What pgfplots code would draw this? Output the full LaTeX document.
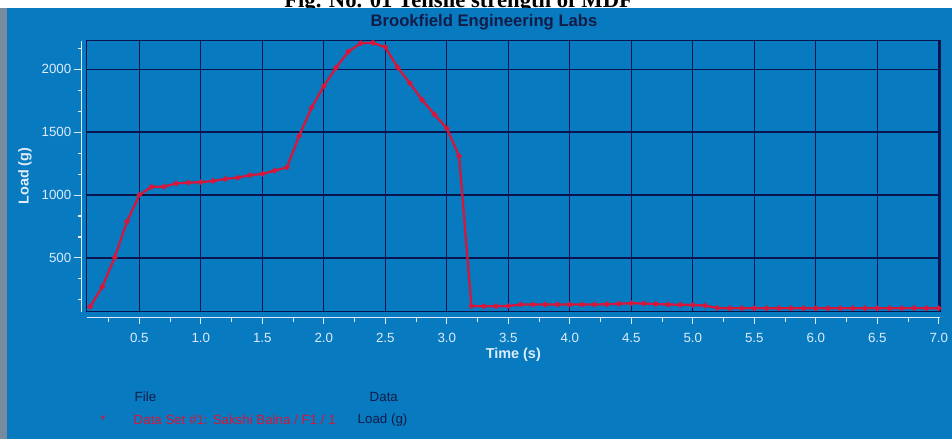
\documentclass[border=0pt]{standalone}
\usepackage{fontspec}
\setmainfont{Liberation Sans}
\newfontfamily\titleserif{Liberation Serif}
\usepackage{pgfplots}
\pgfplotsset{compat=1.18}
\definecolor{bgblue}{RGB}{8,122,192}
\definecolor{gridnavy}{RGB}{12,20,78}
\definecolor{lightc}{RGB}{222,236,250}
\definecolor{curvered}{RGB}{214,22,58}
\definecolor{titlenavy}{RGB}{18,28,72}
\definecolor{edgegray}{RGB}{120,138,158}
\begin{document}
\begin{tikzpicture}
\useasboundingbox (0,0) rectangle (714pt,329.25pt);
\fill[white] (0,0) rectangle (714pt,329.25pt);
\node[anchor=base, font=\titleserif\bfseries\fontsize{17}{20}\selectfont, text=black] at (344pt,323.5pt) {Fig. No. 01 Tensile strength of MDF};
\fill[edgegray] (0,0) rectangle (5.25pt,323.25pt);
\fill[bgblue] (5.25pt,0) rectangle (714pt,323.25pt);
\node[font=\bfseries\fontsize{12.5}{14}\selectfont, text=titlenavy] at (363pt,312.75pt) {Brookfield Engineering Labs};
\begin{axis}[
  at={(65pt,95.5pt)}, anchor=south west,
  width=640pt, height=203.25pt, scale only axis,
  xmin=0.072, xmax=7.01, ymin=73, ymax=2227,
  xtick={0.5,1,...,7}, ytick={500,1000,1500,2000},
  grid=major,
  major grid style={gridnavy, line width=1pt},
  axis line style={gridnavy, line width=1pt},
  major tick length=0pt, minor tick length=0pt,
  /pgf/number format/assume math mode=true,
  ticklabel style={font=\fontsize{10}{12}\selectfont, text=lightc},
  x tick label style={/pgf/number format/.cd, fixed, fixed zerofill, precision=1},
  y tick label style={/pgf/number format/.cd, fixed, 1000 sep={}},
  xticklabel shift=12.5pt,
  yticklabel shift=8pt,
  xlabel={Time (s)}, ylabel={Load (g)},
  label style={font=\bfseries\fontsize{10.8}{12}\selectfont, text=lightc},
  xlabel style={at={(axis description cs:0.5,0)}, anchor=center, yshift=-32.5pt},
  ylabel style={at={(axis description cs:-0.0723,0.5)}, anchor=center},
  clip=false,
]
\draw[lightc, line width=0.9pt] ([yshift=-4.5pt]axis cs:0.072,73) -- ([yshift=-4.5pt]axis cs:7.01,73);
\pgfplotsinvokeforeach{0.25,0.75,1.25,1.75,2.25,2.75,3.25,3.75,4.25,4.75,5.25,5.75,6.25,6.75}{
  \draw[lightc, line width=0.8pt] ([yshift=-4.5pt]axis cs:#1,73) -- ([yshift=-8pt]axis cs:#1,73);
}
\pgfplotsinvokeforeach{0.5,1,1.5,2,2.5,3,3.5,4,4.5,5,5.5,6,6.5,7}{
  \draw[lightc, line width=0.8pt] ([yshift=-4.5pt]axis cs:#1,73) -- ([yshift=-9.5pt]axis cs:#1,73);
}
\draw[lightc, line width=0.9pt] ([xshift=-3.75pt]axis cs:0.072,73) -- ([xshift=-3.75pt]axis cs:0.072,2227);
\pgfplotsinvokeforeach{166.67,333.33,666.67,833.33,1166.67,1333.33,1666.67,1833.33,2166.67}{
  \draw[lightc, line width=0.8pt] ([xshift=-3.75pt]axis cs:0.072,#1) -- ([xshift=-6.75pt]axis cs:0.072,#1);
}
\pgfplotsinvokeforeach{500,1000,1500,2000}{
  \draw[lightc, line width=0.8pt] ([xshift=-3.75pt]axis cs:0.072,#1) -- ([xshift=-9.25pt]axis cs:0.072,#1);
}
\addplot[curvered, line width=1.7pt, mark=*, mark size=1.1pt, mark options={fill=curvered, draw=curvered}] coordinates {
(0.1,113) (0.2,272) (0.3,505) (0.4,790) (0.5,1000) (0.6,1065) (0.7,1067) (0.8,1092) (0.9,1099) (1.0,1102)
(1.1,1112) (1.2,1128) (1.3,1138) (1.4,1158) (1.5,1168) (1.6,1194) (1.7,1220) (1.8,1470) (1.9,1695) (2.0,1865)
(2.1,2013) (2.2,2140) (2.3,2207) (2.4,2210) (2.5,2175) (2.6,2015) (2.7,1889) (2.8,1756) (2.9,1640) (3.0,1530)
(3.1,1310) (3.2,118) (3.3,116) (3.4,116) (3.5,118) (3.6,130) (3.7,130) (3.8,130) (3.9,130) (4.0,130)
(4.1,130) (4.2,130) (4.3,132) (4.4,136) (4.5,140) (4.6,138) (4.7,134) (4.8,130) (4.9,128) (5.0,126)
(5.1,121) (5.2,102) (5.3,100) (5.4,100) (5.5,100) (5.6,100) (5.7,100) (5.8,100) (5.9,100) (6.0,100)
(6.1,100) (6.2,100) (6.3,100) (6.4,100) (6.5,100) (6.6,100) (6.7,100) (6.8,102) (6.9,100) (7.0,100)
};
\end{axis}
\node[anchor=west, font=\fontsize{10}{12}\selectfont, text=titlenavy] at (97.5pt,31.5pt) {File};
\node[anchor=west, font=\fontsize{10}{12}\selectfont, text=titlenavy] at (273.75pt,31.5pt) {Data};
\node[font=\fontsize{10}{12}\selectfont, text=curvered] at (77.25pt,14pt) {*};
\node[anchor=west, font=\fontsize{10}{12}\selectfont, text=curvered] at (96.75pt,14.25pt) {Data Set \#1: Sakshi Balna / F1 / 1};
\node[anchor=west, font=\fontsize{10}{12}\selectfont, text=titlenavy] at (264.75pt,14.25pt) {Load (g)};
\end{tikzpicture}
\end{document}
